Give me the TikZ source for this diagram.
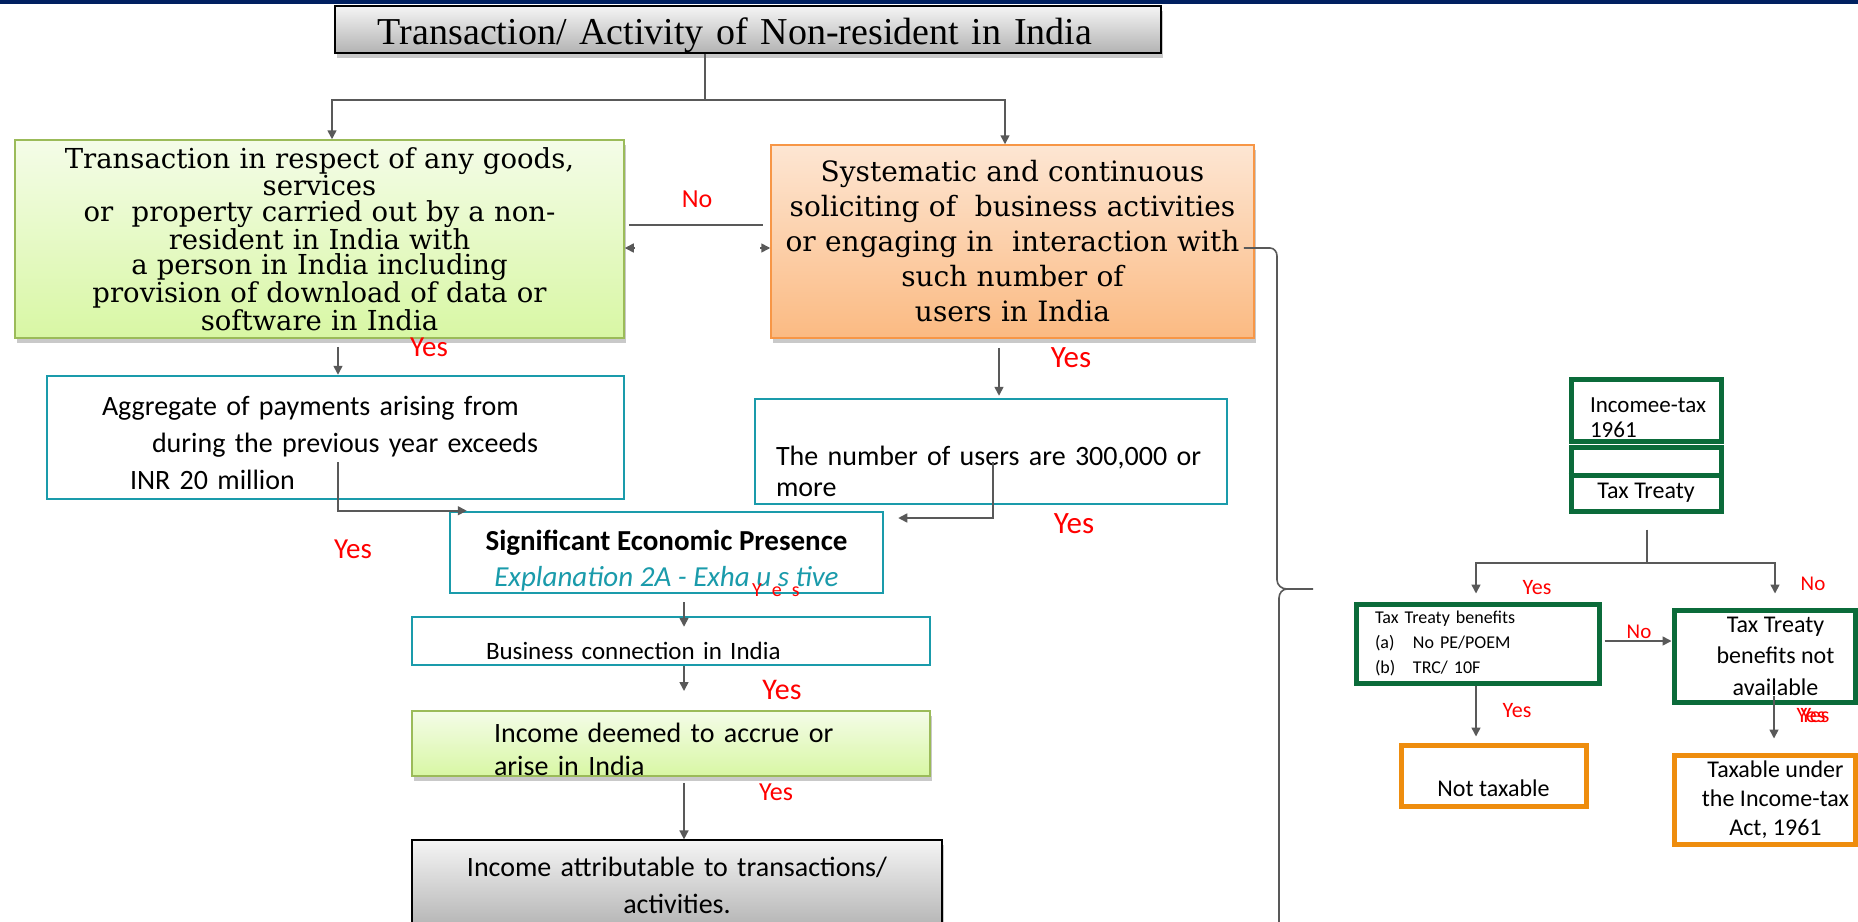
\documentclass[tikz,border=0pt]{standalone}
\usepackage{fontspec}
\setmainfont{Carlito}
\newfontfamily\titleserif{Liberation Serif}
\newfontfamily\boxserif{DejaVu Serif}
\usetikzlibrary{arrows.meta, calc, positioning, shadows}

\definecolor{navyband}{HTML}{002060}
\definecolor{connector}{HTML}{595959}
\definecolor{tealline}{HTML}{1A9BAB}
\definecolor{oliveline}{HTML}{9BBB59}
\definecolor{orangeline}{HTML}{F79646}
\definecolor{limetop}{HTML}{F4FCE8}
\definecolor{limebottom}{HTML}{D8F7A4}
\definecolor{peachtop}{HTML}{FDE6D3}
\definecolor{peachbottom}{HTML}{FBBA82}
\definecolor{treatygreen}{HTML}{0B6B3A}
\definecolor{taxorange}{HTML}{EE8D0E}
\definecolor{labelred}{HTML}{FF0000}

\tikzset{
  boxshadow/.style={drop shadow={shadow xshift=2pt, shadow yshift=-5pt, opacity=0.3, fill=black!70}},
  greybox/.style={draw=black, line width=1.2pt, top color=black!4, bottom color=black!30, boxshadow},
  limebox/.style={draw=oliveline, line width=1.5pt, top color=limetop, bottom color=limebottom, boxshadow},
  peachbox/.style={draw=orangeline, line width=1.5pt, top color=peachtop, bottom color=peachbottom, boxshadow},
  tealbox/.style={draw=tealline, line width=2.5pt, fill=white},
  treatybox/.style={draw=treatygreen, line width=5pt, fill=white},
  resultbox/.style={draw=taxorange, line width=5pt, fill=white},
  conn/.style={draw=connector, line width=1.6pt},
  arr/.style={conn, -{Triangle[length=9pt, width=9pt]}},
  redlbl/.style={text=labelred, inner sep=0pt, font=\fontsize{#1}{#1}\selectfont},
}

\begin{document}
\begin{tikzpicture}[x=1pt, y=-1pt]
\useasboundingbox (0,0) rectangle (1858,921);
\fill[navyband] (0,0) rectangle (1858,4);

% left part: the flow down to income
\node[greybox, minimum width=826pt, minimum height=47pt, text width=826pt, align=center, inner sep=0pt, font=\titleserif\fontsize{38}{38}\selectfont] (activity) at (748,29.5) {\rule{0pt}{38pt}\hspace*{-26pt}Transaction/ Activity of Non-resident in India};

\node[limebox, minimum width=609pt, minimum height=198pt, text width=590pt, align=center, inner sep=0pt, font=\boxserif\fontsize{27.5}{25.5}\selectfont] (goods) at (319.5,239) {Transaction in respect of any goods,\\ services\\ or\ \ property carried out by a non-\\ resident in India with\\ a person in India including\\ provision of download of data or\\ software in India};

\node[peachbox, minimum width=483pt, minimum height=193pt, text width=475pt, align=center, inner sep=0pt, font=\boxserif\fontsize{28}{35}\selectfont] (soliciting) at (1012.5,241.5) {Systematic and continuous\\ soliciting of\ \ business activities\\ or engaging in\ \ interaction with\\ such number of\\ users in India};

\node[tealbox, minimum width=577pt, minimum height=123pt, text width=577pt, align=left, inner sep=0pt, font=\fontsize{28}{37}\selectfont] (payments) at (335.5,437.5) {\rule{0pt}{31pt}\hspace*{55pt}Aggregate of payments arising from\\ \hspace*{105pt}during the previous year exceeds\\ \hspace*{83pt}INR 20 million};

\node[tealbox, minimum width=472pt, minimum height=105pt, text width=430pt, align=left, inner sep=0pt, font=\fontsize{28}{31}\selectfont] (users) at (991,451.5) {\rule{0pt}{59pt}The number of users are 300,000 or\\ more};

\node[tealbox, minimum width=433pt, minimum height=81pt, align=center, inner sep=0pt, font=\fontsize{29}{36}\selectfont] (presence) at (666.5,552.5) {\rule{0pt}{36pt}\textbf{Significant Economic Presence}\\ \textcolor{tealline}{\itshape Explanation 2A - Exha u s tive}};

\node[tealbox, minimum width=518pt, minimum height=48pt, text width=518pt, align=left, inner sep=0pt, font=\fontsize{25}{30}\selectfont] (connection) at (671,641) {\rule{0pt}{38pt}\hspace*{74pt}Business connection in India};

\node[limebox, minimum width=518pt, minimum height=65pt, text width=518pt, align=left, inner sep=0pt, font=\fontsize{28}{33}\selectfont] (deemed) at (671,743.5) {\rule{0pt}{31pt}\hspace*{82pt}Income deemed to accrue or\\ \hspace*{82pt}arise in India};

\node[greybox, minimum width=530pt, minimum height=90pt, text width=530pt, align=center, inner sep=0pt, font=\fontsize{28}{37}\selectfont] (attributable) at (677,885) {Income attributable to transactions/\\ activities.};

% right part: treaty or act
\node[treatybox, minimum width=150pt, minimum height=62pt, text width=150pt, align=left, inner sep=0pt, font=\fontsize{23}{25}\selectfont] (act) at (1646,410) {\rule{0pt}{30pt}\hspace*{19pt}Incomee-tax\\ \hspace*{19pt}1961};
\node[treatybox, minimum width=150pt, minimum height=64pt, align=center, inner sep=0pt, font=\fontsize{24}{26}\selectfont] (treaty) at (1646,479) {\rule{0pt}{42pt}Tax Treaty};
\draw[treatygreen, line width=5pt] ($(treaty.west)+(0,-4)$) -- ($(treaty.east)+(0,-4)$);

\node[treatybox, minimum width=243pt, minimum height=79pt, text width=243pt, align=left, inner sep=0pt, font=\fontsize{18}{25}\selectfont] (benefits) at (1477.5,643.5) {\hspace*{19pt}Tax Treaty benefits\\ \hspace*{19pt}\makebox[38pt][l]{(a)}No PE/POEM\\ \hspace*{19pt}\makebox[38pt][l]{(b)}TRC/ 10F};
\node[treatybox, minimum width=181pt, minimum height=92pt, align=center, inner sep=0pt, font=\fontsize{24}{31.5}\selectfont] (unavailable) at (1764.5,656) {\hspace*{22pt}Tax Treaty\\ \hspace*{22pt}benefits not\\ \hspace*{22pt}available};
\node[resultbox, minimum width=185pt, minimum height=61pt, align=center, inner sep=0pt, font=\fontsize{24}{25}\selectfont] (nottaxable) at (1493.5,775.5) {\rule{0pt}{43pt}Not taxable};
\node[resultbox, minimum width=181pt, minimum height=89pt, align=center, inner sep=0pt, font=\fontsize{24}{29}\selectfont] (taxable) at (1764.5,799.5) {\hspace*{22pt}Taxable under\\ \hspace*{22pt}the Income-tax\\ \hspace*{22pt}Act, 1961};

% connectors
\coordinate (split) at (705,100);
\draw[conn] (activity.south -| split) -- (split);
\draw[arr] (split) -| ($(goods.north)+(12.5,0)$);
\draw[arr] (split) -| ($(soliciting.north)+(-7.5,0)$);

\draw[conn] ($(goods.east)+(4,-14)$) -- ($(soliciting.west)+(-7,-16.5)$);
\draw[arr] ($(goods.east)+(10,9)$) -- ($(goods.east)+(0,9)$);
\draw[arr] ($(soliciting.west)+(-10,6.5)$) -- ($(soliciting.west)+(0,6.5)$);

\coordinate (bracetip) at (1313,589);
\draw[conn] ($(soliciting.east)+(-11,6.5)$) -- (1270,248) to[out=0,in=90] (1277,256) -- (1277,580) to[out=-90,in=180] (1287,589) -- (bracetip);
\draw[conn] (1287,589) to[out=180,in=90] (1279,598) -- (1279,925);

\draw[arr] ($(goods.south)+(18.5,8)$) -- ($(goods.south |- payments.north)+(18.5,0)$);
\draw[arr] ($(payments.center)+(2.5,24.5)$) |- ($(presence.north west)+(18,0)$);
\draw[arr] ($(soliciting.south)+(-13.5,9)$) -- ($(soliciting.south |- users.north)+(-13.5,-2)$);
\draw[arr] ($(users.center)+(2,10.5)$) |- ($(presence.east)+(14,-34.5)$);
\draw[arr] ($(presence.south)+(17.5,8)$) -- ($(presence.south |- connection.north)+(17.5,11)$);
\coordinate (deemedin) at (684,691);
\draw[arr] ($(connection.south)+(13,0)$) -- (deemedin);
\draw[arr] ($(deemed.south)+(13,6)$) -- ($(attributable.north)+(7,0)$);

\coordinate (treatysplit) at (1647,563);
\draw[conn] ($(treaty.south)+(1,16)$) -- (treatysplit);
\draw[arr] (treatysplit) -| ($(benefits.north)+(-1.5,-8)$);
\draw[arr] (treatysplit) -| ($(unavailable.north)+(10.5,-14)$);
\draw[arr] ($(benefits.east)+(3,-2.5)$) -- ($(unavailable.west |- benefits.east)+(0,-2.5)$);
\draw[arr] ($(benefits.south)+(-1.5,0)$) -- ($(nottaxable.north)+(-17.5,-6)$);
\draw[arr] ($(unavailable.south)+(9.5,-9)$) -- ($(taxable.north)+(9.5,-14)$);

% labels
\node[redlbl=26] (no1) at (697,199) {No};
\node[redlbl=29] (yes1) at (429,347) {Yes};
\node[redlbl=31] (yes2) at (1071,358) {Yes};
\node[redlbl=29] (yes3) at (353,549) {Yes};
\node[redlbl=31] (yes4) at (1074,524) {Yes};
\node[redlbl=20] (yes5) at (776,590) {Y\,\,\,e\,\,\,s};
\node[redlbl=30] (yes6) at (782,690) {Yes};
\node[redlbl=26] (yes7) at (776,792) {Yes};
\node[redlbl=22] (yes8) at (1537,588) {Yes};
\node[redlbl=21] (no2) at (1813,584) {No};
\node[redlbl=21] (no3) at (1639,632) {No};
\node[redlbl=22] (yes9) at (1517,711) {Yes};
\node[redlbl=22] (yes10) at (1811,716) {Yes};
\node[redlbl=22] (yes11) at (1815,716) {Yes};
\end{tikzpicture}
\end{document}
